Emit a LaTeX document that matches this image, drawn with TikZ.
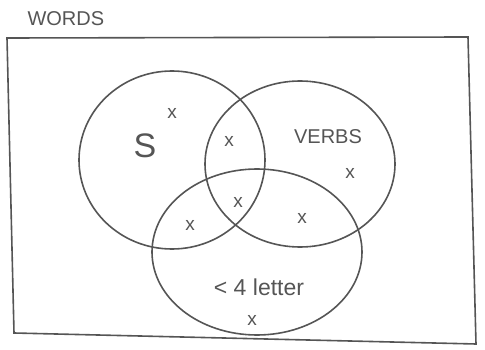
\documentclass[tikz,border=0pt]{standalone}
\usepackage{fontspec}
\setmainfont{Liberation Sans}
\usepackage{tikz}
\usetikzlibrary{positioning,shapes.geometric}
\definecolor{pencil}{HTML}{555555}

\begin{document}
\begin{tikzpicture}[x=1pt,y=-1pt, every node/.style={text=pencil}]
        \useasboundingbox (0,0) rectangle (485,350);
        \tikzset{setring/.style={ellipse,draw=pencil,line width=1.6pt},
                 elem/.style={font=\fontsize{19}{19}\selectfont,inner sep=0pt}}
        \node[anchor=west,font=\fontsize{20}{20}\selectfont] (title) at (24,19) {WORDS};
        \draw[pencil,line width=1.6pt] (7,38) -- (468,37) -- (476,344) -- (14,333) -- cycle;
        \node[setring,minimum width=186pt,minimum height=178pt] (s) at (172,160) {};
        \node[setring,minimum width=190pt,minimum height=166pt] (verbs) at (300,164) {};
        \node[setring,minimum width=210pt,minimum height=166pt] (short) at (257,252) {};
        \node[font=\fontsize{34}{34}\selectfont] (slab) at (145,146) {S};
        \node[font=\fontsize{20}{20}\selectfont] (vlab) at (328,137) {VERBS};
        \node[font=\fontsize{23}{23}\selectfont] (shlab) at (259,287) {< 4 letter};
        \node[elem] (x1) at (172,113) {x};
        \node[elem] (x2) at (229,141) {x};
        \node[elem] (x3) at (350,173) {x};
        \node[elem] (x4) at (238,202) {x};
        \node[elem] (x5) at (190,225) {x};
        \node[elem] (x6) at (302,218) {x};
        \node[elem] (x7) at (252,320) {x};
      \end{tikzpicture}
\end{document}
